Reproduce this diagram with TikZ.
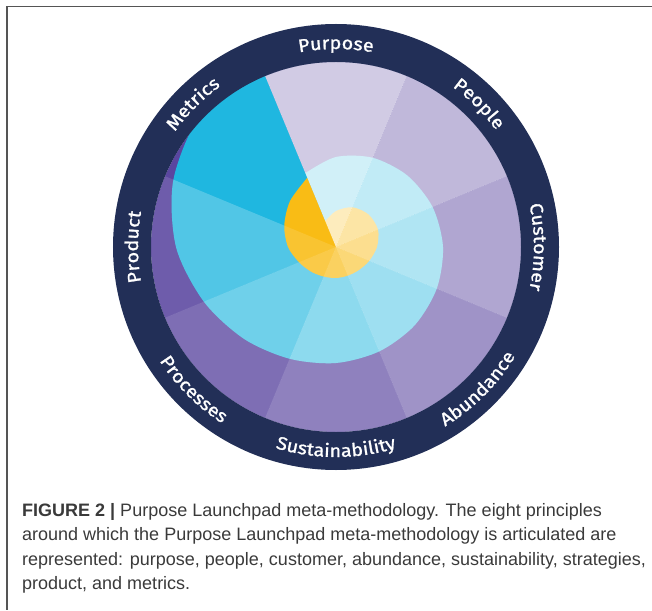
\documentclass[tikz,border=0pt]{standalone}
\usepackage{fontspec}
\setmainfont{Liberation Sans}
\newfontfamily\wheelfont[FakeStretch=1.1,FakeBold=1.2]{Fira Sans}
\usetikzlibrary{decorations.text}
\definecolor{bandnavy}{HTML}{222F57}
\definecolor{wheelpurple}{HTML}{5A46A0}
\definecolor{wheelblue}{HTML}{1FB7E0}
\definecolor{wheelyellow}{HTML}{F9BC15}
\definecolor{framegray}{HTML}{555555}
\definecolor{captiongray}{HTML}{3A3A3A}
\def\sector[#1](#2:#3:#4){\fill[#1] (0,0) -- (#2:#4) arc (#2:#3:#4) -- cycle;}
\def\arclabel(#1:#2:#3)#4{\path[decorate,decoration={text along path,text align=center,text color=white,text={|\wheelfont\fontsize{18pt}{18pt}\selectfont|#4}}] (#1:#3) arc (#1:#2:#3);}
\def\bluespiral{(0,0) -- plot[smooth] coordinates {(112.5:80) (90:90) (67.5:96.5) (45:101) (22.5:104.5) (0:107) (-22.5:109) (-45:111) (-67.5:113) (-90:116) (-112.5:121) (-135:130) (-157.5:143) (-180:160) (-202.5:176) (-225:190) (-247.5:200)} -- cycle}
\def\yellowspiral{(0,0) -- plot[smooth] coordinates {(112.5:28) (90:36) (67.5:43) (45:46) (22.5:45.5) (0:41) (-22.5:36) (-45:32.5) (-67.5:31) (-90:31) (-112.5:32) (-135:35) (-157.5:40) (-180:48) (-202.5:56) (-225:65) (-247.5:75)} -- cycle}

\begin{document}
\begin{tikzpicture}[x=1pt,y=1pt]
	\useasboundingbox (-336,-363) rectangle (316,247);
	\draw[framegray, line width=1.5pt] (316,240.5) -- (-329,240.5) -- (-329,-363);
	
	\fill[wheelpurple] (0,0) circle (185);
	\fill[wheelblue] \bluespiral;
	% the blue fades faster than the other two rings
	\begin{scope}
		\clip \bluespiral;
		\sector[white,opacity=.28](67.5:112.5:200)
		\sector[white,opacity=.28](22.5:67.5:200)
		\sector[white,opacity=.27](-22.5:22.5:200)
		\sector[white,opacity=.26](-67.5:-22.5:200)
		\sector[white,opacity=.25](-112.5:-67.5:200)
		\sector[white,opacity=.18](-157.5:-112.5:200)
		\sector[white,opacity=.12](-202.5:-157.5:200)
	\end{scope}
	\fill[wheelyellow] \yellowspiral;
	
	\sector[white,opacity=.72](67.5:112.5:185)
	\sector[white,opacity=.62](22.5:67.5:185)
	\sector[white,opacity=.52](-22.5:22.5:185)
	\sector[white,opacity=.42](-67.5:-22.5:185)
	\sector[white,opacity=.32](-112.5:-67.5:185)
	\sector[white,opacity=.22](-157.5:-112.5:185)
	\sector[white,opacity=.12](-202.5:-157.5:185)
	
	\fill[bandnavy, even odd rule] (0,0) circle (223) (0,0) circle (185);
	
	\arclabel(120:60:198){Purpose}
	\arclabel(75:15:198){People}
	\arclabel(30:-30:198){Customer}
	\arclabel(-75:-15:210){Abundance}
	\arclabel(-120:-60:210){Sustainability}
	\arclabel(-165:-105:210){Processes}
	\arclabel(210:150:198){Product}
	\arclabel(165:105:198){Metrics}
	
	\node[anchor=north west, align=left, inner sep=0pt, text=captiongray, font=\fontsize{18pt}{24.5pt}\selectfont] (caption) at (-314,-256) {\textbf{FIGURE 2 |} Purpose Launchpad meta-methodology. The eight principles\\around which the Purpose Launchpad meta-methodology is articulated are\\represented: purpose, people, customer, abundance, sustainability, strategies,\\product, and metrics.};
\end{tikzpicture}
\end{document}
